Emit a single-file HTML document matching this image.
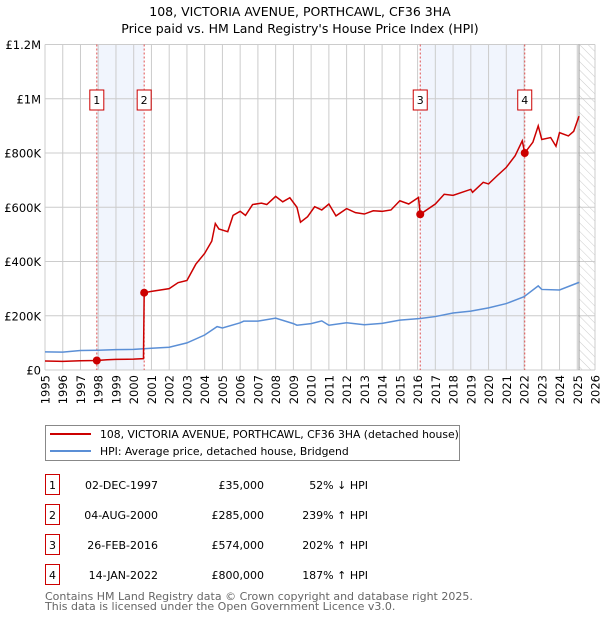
<!DOCTYPE html>
<html><head><meta charset="utf-8"><style>
body{margin:0;background:#fff;font-family:"Liberation Sans","DejaVu Sans",sans-serif;}
svg text{font-family:"DejaVu Sans","Liberation Sans",sans-serif;}
</style></head><body>
<svg id="c" width="600" height="620" xmlns="http://www.w3.org/2000/svg">
<defs><pattern id="hatch" width="6" height="6" patternUnits="userSpaceOnUse" patternTransform="rotate(-45)"><line x1="0" y1="0" x2="0" y2="6" stroke="#ccc" stroke-width="1"/></pattern></defs>
<text x="300" y="16" text-anchor="middle" font-size="12.5">108, VICTORIA AVENUE, PORTHCAWL, CF36 3HA</text>
<text x="300" y="33" text-anchor="middle" font-size="12.5">Price paid vs. HM Land Registry's House Price Index (HPI)</text>
<g id="grid"></g><g id="marks"></g><g id="axes"></g>
<g>
<rect x="45.5" y="425.5" width="414" height="35" fill="#fff" stroke="#888"/>
<line x1="50" y1="434" x2="91" y2="434" stroke="#cc0000" stroke-width="2"/>
<text x="100" y="438" font-size="10.8">108, VICTORIA AVENUE, PORTHCAWL, CF36 3HA (detached house)</text>
<line x1="50" y1="451" x2="91" y2="451" stroke="#5b8fd6" stroke-width="2"/>
<text x="100" y="455" font-size="10.8">HPI: Average price, detached house, Bridgend</text>
</g>
<g id="table" font-size="11"></g>
<text x="45" y="600" font-size="11" fill="#666">Contains HM Land Registry data © Crown copyright and database right 2025.</text>
<text x="45" y="610" font-size="11" fill="#666">This data is licensed under the Open Government Licence v3.0.</text>
</svg>
<script>
const hpiYears=[1995,1996,1997,1998,1999,2000,2001,2002,2003,2004,2004.7,2005,2006,2006.2,2007,2008,2009,2009.2,2010,2010.6,2011,2012,2013,2014,2015,2016.15,2017,2018,2019,2020,2021,2022,2022.8,2023,2024,2025.1];
const hpiValues=[67000,66000,72000,73000,75000,76000,80000,84000,100000,129000,160000,155000,174000,180000,180000,191000,171000,165000,171000,181000,165000,174000,167000,172000,184000,190000,197000,210000,217000,229000,245000,270000,310000,297000,295000,323000];
const propYears=[1995,1996,1997,1997.92,1998.5,1999,2000,2000.55,2000.59,2001,2002,2002.5,2003,2003.5,2004,2004.4,2004.6,2004.8,2005.3,2005.6,2006,2006.3,2006.7,2007.2,2007.5,2008,2008.4,2008.8,2009.2,2009.4,2009.8,2010.2,2010.6,2011,2011.4,2012,2012.5,2013,2013.5,2014,2014.5,2015,2015.5,2016.05,2016.15,2017,2017.5,2018,2019,2019.1,2019.7,2020,2020.5,2021,2021.5,2021.9,2022.04,2022.5,2022.8,2023,2023.5,2023.8,2024,2024.5,2024.8,2025.1];
const propValues=[33000,32000,34000,35000,38000,39000,40000,42000,285000,290000,300000,322000,330000,390000,430000,475000,540000,520000,510000,570000,585000,570000,610000,615000,610000,640000,620000,635000,600000,545000,565000,602000,590000,612000,568000,595000,580000,575000,587000,585000,590000,624000,612000,636000,574000,612000,648000,644000,666000,655000,692000,686000,717000,747000,790000,845000,800000,840000,900000,850000,857000,825000,875000,863000,880000,936000];
const saleLabels=["1","2","3","4"];
const saleYears=[1997.92,2000.59,2016.15,2022.04];
const salePrices=[35000,285000,574000,800000];
const saleDates=["02-DEC-1997","04-AUG-2000","26-FEB-2016","14-JAN-2022"];
const salePriceText=["£35,000","£285,000","£574,000","£800,000"];
const saleHpiText=["52% ↓ HPI","239% ↑ HPI","202% ↑ HPI","187% ↑ HPI"];
const yTicks=[0,200000,400000,600000,800000,1000000,1200000];
const yTickLabels=["£0","£200K","£400K","£600K","£800K","£1M","£1.2M"];
const xStart=1995,xEnd=2026;
const L=45,R=595,T=44.5,B=370;
const X=v=>L+(v-xStart)/(xEnd-xStart)*(R-L);
const Y=v=>B-v/1200000*(B-T);
const NS="http://www.w3.org/2000/svg";
function mk(p,tag,attrs,txt){const e=document.createElementNS(NS,tag);for(const k in attrs)e.setAttribute(k,attrs[k]);if(txt!==undefined)e.textContent=txt;p.appendChild(e);return e;}
const grid=document.getElementById('grid'),marks=document.getElementById('marks'),axes=document.getElementById('axes'),table=document.getElementById('table');
for(let i=0;i<4;i+=2){const r=mk(grid,'rect',{x:X(saleYears[i]),y:T,width:X(saleYears[i+1])-X(saleYears[i]),height:B-T,fill:'#eef3fc',opacity:0.8});

}
const hr=mk(grid,'rect',{x:X(2025.1),y:T,width:R-X(2025.1),height:B-T,fill:'url(#hatch)'});


for(let y=xStart;y<=xEnd;y++){const l=mk(grid,'line',{x1:X(y),x2:X(y),y1:T,y2:B,stroke:'#ccc','stroke-width':1});


const t=mk(axes,'text',{x:0,y:0,'font-size':11.5,'text-anchor':'end',transform:`translate(${X(y)+4.5},${B+5}) rotate(-90)`},String(y));

}
yTicks.forEach((v,i)=>{const l=mk(grid,'line',{x1:L,x2:R,y1:Y(v),y2:Y(v),stroke:'#ccc','stroke-width':1});


const t=mk(axes,'text',{x:L-4,y:Y(v)+4.5,'font-size':11.5,'text-anchor':'end'},yTickLabels[i]);

});
const nl=mk(grid,'line',{x1:X(2025.1),x2:X(2025.1),y1:T,y2:B,stroke:'#999','stroke-width':1});


saleYears.forEach((s,i)=>{const l=mk(marks,'line',{x1:X(s),x2:X(s),y1:T,y2:B,stroke:'#e05050','stroke-width':1,'stroke-dasharray':'2,2'});


const bx=mk(marks,'rect',{x:X(s)-7,y:90,width:14,height:20,fill:'#fff',stroke:'#cc0000'});


mk(marks,'text',{x:X(s),y:104,'font-size':11,'text-anchor':'middle'},saleLabels[i]);});
const hp=mk(marks,'polyline',{points:hpiYears.map((y,i)=>X(y)+','+Y(hpiValues[i])).join(' '),fill:'none',stroke:'#5b8fd6','stroke-width':1.5});


const pp=mk(marks,'polyline',{points:propYears.map((y,i)=>X(y)+','+Y(propValues[i])).join(' '),fill:'none',stroke:'#cc0000','stroke-width':1.5});


saleYears.forEach((s,i)=>{const c=mk(marks,'circle',{cx:X(s),cy:Y(salePrices[i]),r:4,fill:'#cc0000'});

});
saleLabels.forEach((lab,i)=>{const y=489+i*30;
const b=mk(table,'rect',{x:45.5,y:y-14.5,width:14,height:20,fill:'#fff',stroke:'#cc0000'});


mk(table,'text',{x:52.5,y:y,'text-anchor':'middle'},lab);
const d=mk(table,'text',{x:158,y:y,'text-anchor':'end'},saleDates[i]);


const p=mk(table,'text',{x:264,y:y,'text-anchor':'end'},salePriceText[i]);


const h=mk(table,'text',{x:368,y:y,'text-anchor':'end'},saleHpiText[i]);

});
</script>
</body></html>
